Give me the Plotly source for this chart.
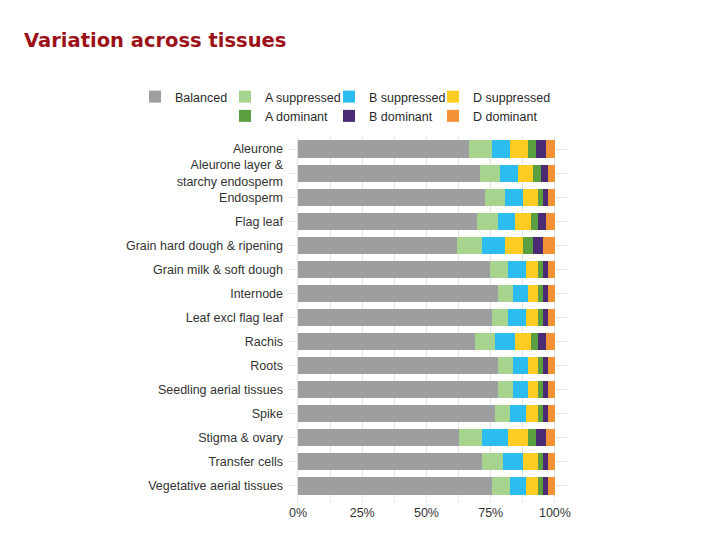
import plotly.graph_objects as go

tissues = [
    "Aleurone",
    "Aleurone layer &<br>starchy endosperm",
    "Endosperm",
    "Flag leaf",
    "Grain hard dough & ripening",
    "Grain milk & soft dough",
    "Internode",
    "Leaf excl flag leaf",
    "Rachis",
    "Roots",
    "Seedling aerial tissues",
    "Spike",
    "Stigma & ovary",
    "Transfer cells",
    "Vegetative aerial tissues",
]

balanced      = [66.4, 70.8, 72.8, 69.7, 61.9, 74.7, 77.8, 75.5, 68.9, 77.8, 77.8, 76.7, 62.7, 71.6, 75.5]
a_suppressed  = [9.1, 7.8, 7.7, 8.1, 9.7, 7.0, 5.9, 6.2, 7.8, 5.9, 5.9, 5.8, 8.9, 8.2, 7.0]
b_suppressed  = [7.0, 7.0, 7.0, 6.6, 8.9, 7.0, 5.8, 7.0, 7.7, 5.8, 5.8, 6.2, 10.1, 7.7, 6.2]
d_suppressed  = [7.0, 5.8, 5.9, 6.2, 7.0, 4.7, 3.9, 4.7, 6.2, 3.9, 3.9, 4.7, 7.8, 5.9, 4.7]
a_dominant    = [3.1, 3.1, 1.9, 2.8, 3.9, 1.9, 1.9, 1.9, 2.8, 1.9, 1.9, 1.9, 3.1, 1.9, 1.9]
b_dominant    = [3.9, 2.8, 2.0, 3.1, 3.9, 2.0, 2.0, 2.0, 3.1, 2.0, 2.0, 2.0, 3.9, 2.0, 2.0]
d_dominant    = [3.5, 2.7, 2.7, 3.5, 4.7, 2.7, 2.7, 2.7, 3.5, 2.7, 2.7, 2.7, 3.5, 2.7, 2.7]

series_names = ["Balanced", "A suppressed", "B suppressed", "D suppressed",
                "A dominant", "B dominant", "D dominant"]
series_values = [balanced, a_suppressed, b_suppressed, d_suppressed,
                 a_dominant, b_dominant, d_dominant]
series_colors = ["#9c9ea0", "#a6d48f", "#2bbdef", "#fdcd23", "#5a9f40", "#4a2b74", "#f39237"]
series_legend = ["legend", "legend2", "legend3", "legend4", "legend2", "legend3", "legend4"]

x_tick_vals = [0, 12.5, 25, 37.5, 50, 62.5, 75, 87.5, 100]
x_tick_text = ["0%", "", "25%", "", "50%", "", "75%", "", "100%"]

fig = go.Figure()
for name, vals, col, lg in zip(series_names, series_values, series_colors, series_legend):
    fig.add_trace(go.Bar(
        y=tissues, x=vals, name=name, orientation="h",
        marker=dict(color=col, line=dict(width=0)),
        legend=lg, hoverinfo="x+name",
    ))

# page offset of the figure (default body margin)
OFF = 8
W, H = 720, 540
# desired plot-area edges in page pixels
PL, PR, PT, PB = 289, 567, 137, 498
L = PL - OFF
T = PT - OFF
R = W - (PR - OFF)
B = H - (PB - OFF)
pw = PR - PL
ph = PB - PT

def lx(px):
    return (px - PL) / pw

def ly(py):
    return (PB - py) / ph

legend_font = dict(family="Liberation Sans, Arial, sans-serif", size=12.5, color="#2a2a2a")
common_leg = dict(orientation="v", xanchor="left", yanchor="top", y=ly(82),
                  font=legend_font, bgcolor="rgba(0,0,0,0)", borderwidth=0,
                  traceorder="normal", tracegroupgap=0)

fig.update_layout(
    width=W, height=H,
    margin=dict(l=L, r=R, t=T, b=B, pad=0),
    paper_bgcolor="white", plot_bgcolor="white",
    barmode="stack", bargap=0.29,
    title=dict(text="Variation across tissues", x=(24 - OFF) / W, xanchor="left",
               y=1 - (40 - OFF) / H, yanchor="middle", xref="container", yref="container",
               font=dict(family="DejaVu Sans", size=19.5, color="#9c1118", weight="bold")),
    legend=dict(common_leg, x=lx(135)),
    legend2=dict(common_leg, x=lx(225)),
    legend3=dict(common_leg, x=lx(329)),
    legend4=dict(common_leg, x=lx(433)),
    xaxis=dict(range=[-3.5, 104.7], tickmode="array", tickvals=x_tick_vals, ticktext=x_tick_text,
               showgrid=True, gridcolor="#e2e2e2", gridwidth=1, zeroline=False,
               ticks="outside", ticklen=3, tickcolor="#e2e2e2",
               tickfont=dict(family="Liberation Sans, Arial, sans-serif", size=12.5, color="#333"),
               showline=False, fixedrange=True),
    yaxis=dict(autorange="reversed", showgrid=True, gridcolor="#e2e2e2", gridwidth=1,
               zeroline=False, ticks="", ticklabelstandoff=5,
               tickfont=dict(family="Liberation Sans, Arial, sans-serif", size=12.5, color="#333"),
               showline=False, fixedrange=True),
    showlegend=True,
)

fig.write_html("out.html")
